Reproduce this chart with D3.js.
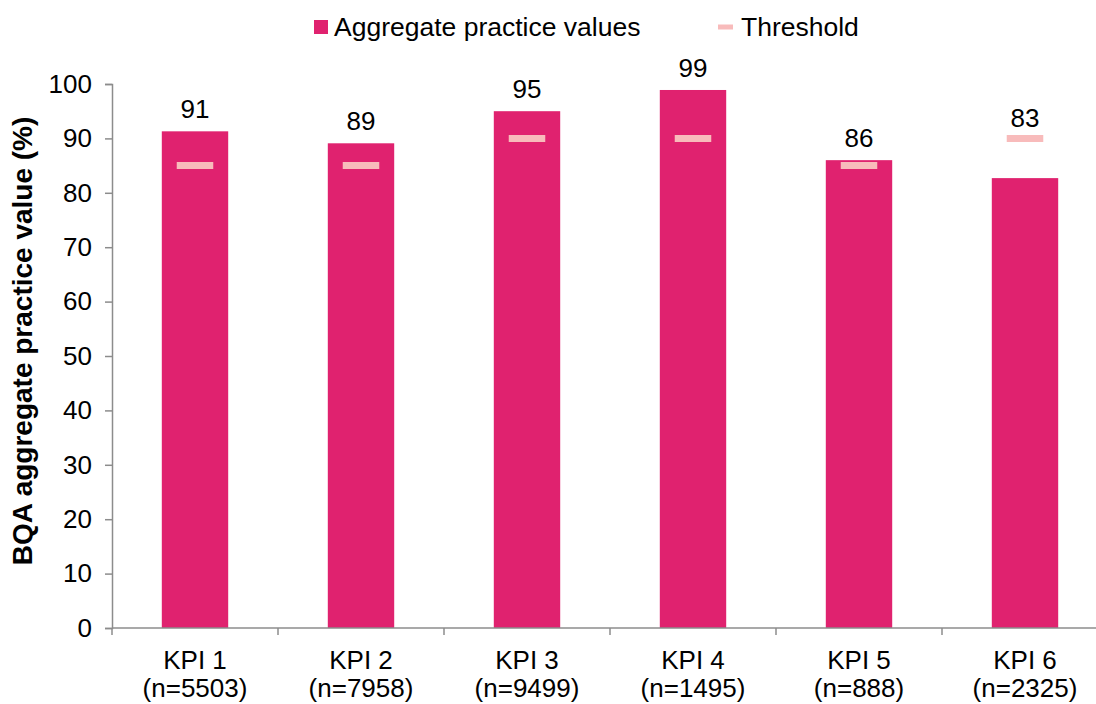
<!DOCTYPE html>
<html>
<head>
<meta charset="utf-8">
<script src="https://cdn.jsdelivr.net/npm/d3@7"></script>
<style>
  body { margin: 0; background: #fff; }
  svg { display: block; font-family: "Liberation Sans", Arial, sans-serif; }
</style>
</head>
<body>
<svg id="chart" width="1096" height="704"></svg>
<script>
// KPI categories and sample sizes
const categories = ["KPI 1", "KPI 2", "KPI 3", "KPI 4", "KPI 5", "KPI 6"];
const sampleSizes = ["n=5503", "n=7958", "n=9499", "n=1495", "n=888", "n=2325"];
// Aggregate practice values (%)
const values = [91.3, 89.1, 95.0, 98.9, 86.0, 82.7];
// Threshold per KPI (%)
const thresholds = [85, 85, 90, 90, 85, 90];
const yTicks = [0, 10, 20, 30, 40, 50, 60, 70, 80, 90, 100];

const barColor = "#E0226F";
const threshColor = "#F8BBBB";
const axisColor = "#8C8C8C";
const fontSize = 26;

const svg = d3.select("#chart");
const plot = { left: 112, right: 1108, top: 84, bottom: 628 };

const x = d3.scaleBand()
  .domain(categories)
  .range([plot.left, plot.right])
  .paddingInner(0.6)
  .paddingOuter(0.3);

const y = d3.scaleLinear().domain([0, 100]).range([plot.bottom, plot.top]);

// Bars
svg.append("g").selectAll("rect")
  .data(categories)
  .join("rect")
  .attr("x", d => x(d))
  .attr("width", x.bandwidth())
  .attr("y", (d, i) => y(values[i]))
  .attr("height", (d, i) => y(0) - y(values[i]))
  .attr("fill", barColor);

// Threshold marks
const tw = x.bandwidth() * 0.55;
svg.append("g").selectAll("line")
  .data(categories)
  .join("line")
  .attr("x1", d => x(d) + x.bandwidth() / 2 - tw / 2)
  .attr("x2", d => x(d) + x.bandwidth() / 2 + tw / 2)
  .attr("y1", (d, i) => y(thresholds[i]))
  .attr("y2", (d, i) => y(thresholds[i]))
  .attr("stroke", threshColor)
  .attr("stroke-width", 7);

// Value labels, lifted above the threshold mark when it sits higher than the bar
svg.append("g").selectAll("text")
  .data(categories)
  .join("text")
  .attr("x", d => x(d) + x.bandwidth() / 2)
  .attr("y", (d, i) => Math.min(y(values[i]), y(thresholds[i]) + 2) - 13)
  .attr("text-anchor", "middle")
  .attr("font-size", fontSize)
  .attr("fill", "#000")
  .text((d, i) => d3.format(".0f")(values[i]));

// Y axis
const yAxis = svg.append("g")
  .attr("transform", `translate(${plot.left},0)`)
  .call(d3.axisLeft(y).tickValues(yTicks).tickSize(7).tickPadding(13));
yAxis.select(".domain").attr("stroke", axisColor).attr("stroke-width", 1.5);
yAxis.selectAll(".tick line").attr("stroke", axisColor).attr("stroke-width", 1.5);
yAxis.selectAll(".tick text").attr("font-size", fontSize).attr("fill", "#000")
  .attr("font-family", "Liberation Sans, Arial, sans-serif");

// X axis baseline with category boundary ticks
const xg = svg.append("g");
xg.append("line")
  .attr("x1", plot.left).attr("x2", plot.right)
  .attr("y1", y(0)).attr("y2", y(0))
  .attr("stroke", axisColor).attr("stroke-width", 1.5);
const bounds = d3.range(categories.length + 1).map(i => plot.left + i * x.step());
xg.selectAll("line.b")
  .data(bounds)
  .join("line")
  .attr("class", "b")
  .attr("x1", d => d).attr("x2", d => d)
  .attr("y1", y(0)).attr("y2", y(0) + 7)
  .attr("stroke", axisColor).attr("stroke-width", 1.5);

// Category labels
const catLabels = xg.selectAll("text.cat")
  .data(categories)
  .join("text")
  .attr("class", "cat")
  .attr("text-anchor", "middle")
  .attr("font-size", fontSize)
  .attr("fill", "#000");
catLabels.append("tspan")
  .attr("x", d => x(d) + x.bandwidth() / 2)
  .attr("y", 669)
  .text(d => d);
catLabels.append("tspan")
  .attr("x", d => x(d) + x.bandwidth() / 2)
  .attr("y", 697)
  .text((d, i) => `(${sampleSizes[i]})`);

// Y axis title
svg.append("text")
  .attr("transform", "translate(32,341) rotate(-90)")
  .attr("text-anchor", "middle")
  .attr("font-size", 28)
  .attr("font-weight", "bold")
  .attr("fill", "#000")
  .text("BQA aggregate practice value (%)");

// Legend
const legend = svg.append("g");
legend.append("rect")
  .attr("x", 314).attr("y", 20).attr("width", 14).attr("height", 14)
  .attr("fill", barColor);
legend.append("text")
  .attr("x", 334).attr("y", 36)
  .attr("font-size", 26.5).attr("fill", "#000")
  .text("Aggregate practice values");
legend.append("line")
  .attr("x1", 718).attr("x2", 733).attr("y1", 27).attr("y2", 27)
  .attr("stroke", threshColor).attr("stroke-width", 5);
legend.append("text")
  .attr("x", 741).attr("y", 36)
  .attr("font-size", 26.5).attr("fill", "#000")
  .text("Threshold");
</script>
</body>
</html>
